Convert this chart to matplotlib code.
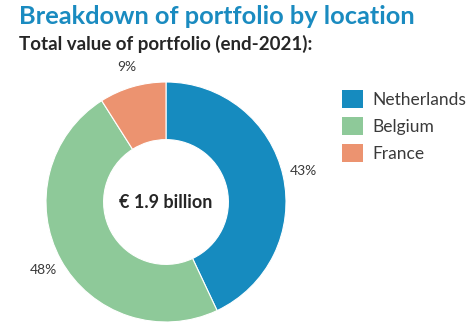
import matplotlib
matplotlib.use('Agg')
import matplotlib.pyplot as plt
from matplotlib.patches import Patch

plt.rcParams['font.family'] = ['Lato', 'DejaVu Sans']

# data
locations = ['Netherlands', 'Belgium', 'France']
shares = [43, 48, 9]
colors = ['#168bbf', '#8ec999', '#ec9370']
title = 'Breakdown of portfolio by location'
subtitle = 'Total value of portfolio (end-2021):'
center_text = '€ 1.9 billion'

W, H = 474, 330
fig = plt.figure(figsize=(W / 100, H / 100), dpi=100)

# pie centred at (166, 202) px, radius 120 px
cx, cy, r = 166, 202, 120
ax = fig.add_axes([(cx - r) / W, (H - cy - r) / H, 2 * r / W, 2 * r / H])
wedges, texts, autotexts = ax.pie(
    shares, colors=colors, startangle=90, counterclock=False,
    radius=1, autopct=lambda p: f'{p:.0f}%', pctdistance=1.17,
    wedgeprops=dict(width=0.48, edgecolor='white', linewidth=0.8),
    textprops=dict(fontsize=10, color='#3a3a3a'))
ax.set_xlim(-1, 1)
ax.set_ylim(-1, 1)
ax.set_aspect('equal')
ax.axis('off')
ax.text(0, 0, center_text, ha='center', va='center', fontsize=13,
        fontweight='bold', color='#262626')

fig.text(19 / W, 1 - 17 / H, title, ha='left', va='center', fontsize=18.3,
         fontweight='bold', color='#1a8bc0')
fig.text(19 / W, 1 - 44 / H, subtitle, ha='left', va='center', fontsize=13.5,
         fontweight='bold', color='#262626')

handles = [Patch(facecolor=c, edgecolor='none') for c in colors]
fig.legend(handles, locations, loc='upper left',
           bbox_to_anchor=(326 / W, 1 - 74 / H), frameon=False,
           fontsize=12.5, handlelength=1.25, handleheight=1.25,
           handletextpad=0.55, labelspacing=0.5, labelcolor='#3a3a3a')

fig.savefig('out.png', dpi=100)
